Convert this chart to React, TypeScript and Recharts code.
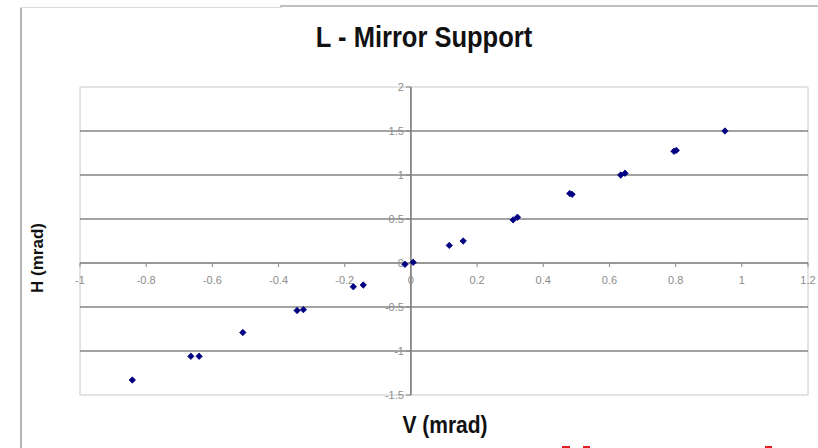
import React from 'react';
import { ScatterChart, Scatter, XAxis, YAxis, ReferenceLine, ReferenceArea, ReferenceDot } from 'recharts';

const vValues = [-0.842, -0.665, -0.640, -0.508, -0.344, -0.325, -0.174, -0.144, -0.018, 0.007, 0.116, 0.158, 0.309, 0.322, 0.480, 0.487, 0.634, 0.647, 0.795, 0.802, 0.949];
const hValues = [-1.33, -1.06, -1.06, -0.79, -0.54, -0.53, -0.27, -0.25, -0.015, 0.008, 0.20, 0.25, 0.49, 0.52, 0.79, 0.78, 1.00, 1.02, 1.27, 1.28, 1.50];

const xTicks = [-1, -0.8, -0.6, -0.4, -0.2, 0, 0.2, 0.4, 0.6, 0.8, 1, 1.2];
const xTickLabels = ['-1', '-0.8', '-0.6', '-0.4', '-0.2', '0', '0.2', '0.4', '0.6', '0.8', '1', '1.2'];
const yTicks = [-1.5, -1, -0.5, 0, 0.5, 1, 1.5, 2];
const yTickLabels = ['-1.5', '-1', '-0.5', '0', '0.5', '1', '1.5', '2'];
const gridValues = [-1, -0.5, 0.5, 1, 1.5];

const title = 'L - Mirror Support';
const xTitle = 'V (mrad)';
const yTitle = 'H (mrad)';

const points = vValues.map((v, i) => ({ v, h: hValues[i] }));

const FONT = '"Liberation Sans", Arial, sans-serif';
const TICK_COLOR = '#8c8c8c';
const GRID_COLOR = '#858585';

const XTick = (props: any) => {
  const { cx, cy, label } = props;
  return (
    <g>
      <line x1={cx} y1={cy} x2={cx} y2={cy + 4} stroke={GRID_COLOR} strokeWidth={1} />
      <text x={cx} y={cy + 21} textAnchor="middle" fontFamily={FONT} fontSize={11} fill={TICK_COLOR}>{label}</text>
    </g>
  );
};

const YTick = (props: any) => {
  const { cx, cy, label } = props;
  return (
    <g>
      <line x1={cx - 5} y1={cy} x2={cx} y2={cy} stroke={GRID_COLOR} strokeWidth={1} />
      <text x={cx - 7} y={cy + 4} textAnchor="end" fontFamily={FONT} fontSize={11} fill={TICK_COLOR}>{label}</text>
    </g>
  );
};

const Marker = (props: any) => {
  const { cx, cy } = props;
  const r = 3.2;
  return <path d={`M${cx},${cy - r}L${cx + r},${cy}L${cx},${cy + r}L${cx - r},${cy}Z`} fill="#000080" stroke="#000080" strokeWidth={0.8} />;
};

export default function App() {
  return (
    <div style={{ position: 'relative', width: 818, height: 448, background: '#fff', overflow: 'hidden' }}>
      <style>{'html,body{margin:0;padding:0;overflow:hidden;}'}</style>
      <div style={{ position: 'absolute', left: 20, top: 7, width: 2, height: 441, background: '#b4b4b4' }} />
      <div style={{ position: 'absolute', left: 20, top: 7, width: 262, height: 1, background: '#dcdcdc' }} />
      <div style={{ position: 'absolute', left: 280, top: 5, width: 538, height: 2, background: '#c0c0c0' }} />
      <div style={{ position: 'absolute', left: 562, top: 446, width: 8, height: 2, background: '#e02020' }} />
      <div style={{ position: 'absolute', left: 583, top: 446, width: 7, height: 2, background: '#e02020' }} />
      <div style={{ position: 'absolute', left: 765, top: 446, width: 7, height: 2, background: '#e02020' }} />
      <ScatterChart width={818} height={448} margin={{ top: 87, left: 80, right: 10, bottom: 53 }}>
        <XAxis type="number" dataKey="v" domain={[-1, 1.2]} ticks={xTicks} hide allowDataOverflow />
        <YAxis type="number" dataKey="h" domain={[-1.5, 2]} ticks={yTicks} hide allowDataOverflow />
        <ReferenceArea x1={-1} x2={1.2} y1={-1.5} y2={2} fill="none" stroke="#c8c8c8" strokeWidth={1} ifOverflow="visible" />
        {gridValues.map((g) => (
          <ReferenceLine key={'g' + g} y={g} stroke={GRID_COLOR} strokeWidth={1.6} ifOverflow="visible" />
        ))}
        <ReferenceLine y={0} stroke="#777" strokeWidth={1.6} ifOverflow="visible" />
        <ReferenceLine x={0} stroke="#777" strokeWidth={1.6} ifOverflow="visible" />
        {xTicks.map((t, i) => (
          <ReferenceDot key={'xt' + i} x={t} y={0} r={0} ifOverflow="visible" shape={(p: any) => <XTick {...p} label={xTickLabels[i]} />} />
        ))}
        {yTicks.map((t, i) => (
          <ReferenceDot key={'yt' + i} x={0} y={t} r={0} ifOverflow="visible" shape={(p: any) => <YTick {...p} label={yTickLabels[i]} />} />
        ))}
        <Scatter data={points} shape={<Marker />} isAnimationActive={false} />
      </ScatterChart>
      <div style={{ position: 'absolute', left: 224, width: 400, top: 22, textAlign: 'center', fontFamily: FONT, fontWeight: 'bold', fontSize: 25.5, color: '#111', lineHeight: '30px', transform: 'scaleY(1.12)' }}>{title}</div>
      <div style={{ position: 'absolute', left: 345, width: 200, top: 412, textAlign: 'center', fontFamily: FONT, fontWeight: 'bold', fontSize: 21, color: '#111', lineHeight: '26px', transform: 'scaleY(1.15)' }}>{xTitle}</div>
      <div style={{ position: 'absolute', left: -62, width: 200, top: 246, textAlign: 'center', fontFamily: FONT, fontWeight: 'bold', fontSize: 17, color: '#111', lineHeight: '24px', transform: 'rotate(-90deg)' }}>{yTitle}</div>
    </div>
  );
}
